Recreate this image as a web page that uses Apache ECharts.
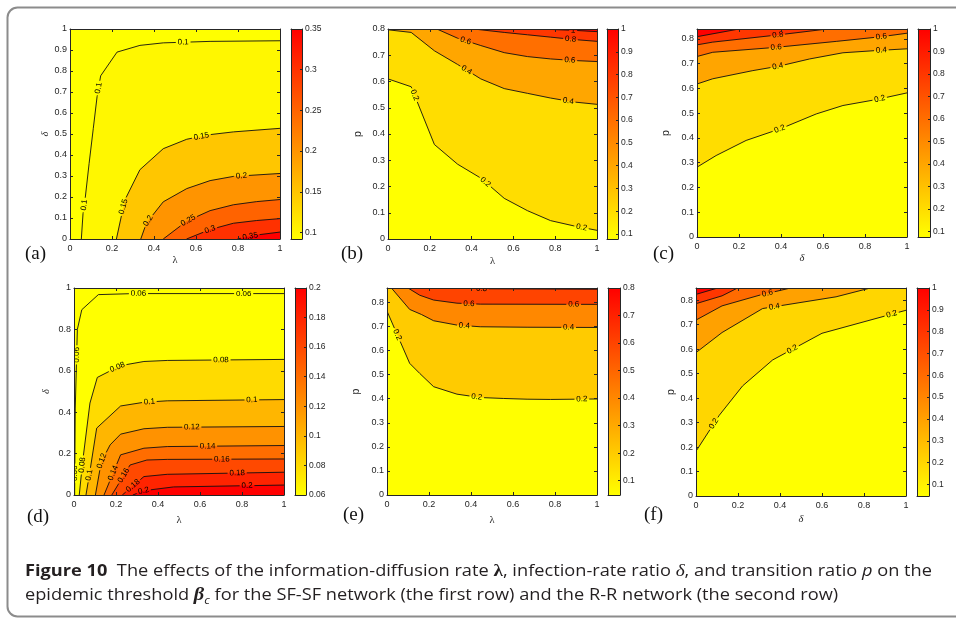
<!DOCTYPE html>
<html>
<head>
<meta charset="utf-8">
<script src="https://cdn.jsdelivr.net/npm/echarts@6/dist/echarts.min.js"></script>
<style>
html,body{margin:0;padding:0;background:#fff}
#chart{width:956px;height:619px}
</style>
</head>
<body>
<div id="chart"></div>
<script>
// ---------------- axis tick values ----------------
const unitTicks5 = [0, 0.2, 0.4, 0.6, 0.8, 1];
const unitTicks10 = [0, 0.1, 0.2, 0.3, 0.4, 0.5, 0.6, 0.7, 0.8, 0.9, 1];
const pTicks = [0, 0.1, 0.2, 0.3, 0.4, 0.5, 0.6, 0.7, 0.8];

// ---------------- (a) SF-SF: beta_c over (lambda, delta) ----------------
const aLevels = [0.1, 0.15, 0.2, 0.25, 0.3, 0.35];
const aLine010 = [[0.054,0],[0.062,0.121],[0.073,0.2],[0.091,0.36],[0.111,0.527],[0.129,0.678],[0.146,0.777],[0.224,0.89],[0.333,0.922],[0.444,0.934],[0.667,0.941],[1,0.944]];
const aLine015 = [[0.221,0],[0.261,0.185],[0.333,0.33],[0.444,0.43],[0.556,0.475],[0.667,0.497],[0.778,0.51],[1,0.527]];
const aLine020 = [[0.337,0],[0.364,0.076],[0.444,0.177],[0.556,0.24],[0.667,0.278],[0.778,0.298],[1,0.312]];
const aLine025 = [[0.444,0],[0.556,0.085],[0.667,0.135],[0.778,0.163],[0.889,0.178],[1,0.188]];
const aLine030 = [[0.555,0],[0.667,0.045],[0.778,0.075],[0.889,0.088],[1,0.097]];
const aLine035 = [[0.797,0],[0.889,0.019],[1,0.033]];
const aRange = [0.092, 0.35];
const aBarTicks = [0.1, 0.15, 0.2, 0.25, 0.3, 0.35];
const aPeak = [1, 0];

// ---------------- (b) SF-SF: beta_c over (lambda, p) ----------------
const bLevels = [0.2, 0.4, 0.6, 0.8, 1];
const bLine02 = [[0,0.61],[0.111,0.58],[0.222,0.36],[0.333,0.285],[0.444,0.232],[0.556,0.155],[0.667,0.108],[0.778,0.07],[0.889,0.05],[1,0.033]];
const bLine04 = [[0,0.797],[0.111,0.787],[0.222,0.717],[0.333,0.665],[0.444,0.61],[0.556,0.573],[0.667,0.555],[0.778,0.537],[0.889,0.522],[1,0.513]];
const bLine06 = [[0.234,0.8],[0.333,0.765],[0.444,0.737],[0.556,0.71],[0.667,0.695],[0.778,0.686],[0.889,0.68],[1,0.676]];
const bLine08 = [[0.41,0.8],[0.556,0.787],[0.667,0.778],[0.778,0.769],[0.889,0.76],[1,0.753]];
const bLine10 = [[0.72,0.8],[0.889,0.795],[1,0.79]];
const bRange = [0.078, 1];
const bBarTicks = [0.1, 0.2, 0.3, 0.4, 0.5, 0.6, 0.7, 0.8, 0.9, 1];
const bPeak = [1, 0.8];

// ---------------- (c) SF-SF: beta_c over (delta, p) ----------------
const cLevels = [0.2, 0.4, 0.6, 0.8, 1];
const cLine02 = [[0,0.282],[0.091,0.329],[0.234,0.39],[0.4,0.438],[0.568,0.497],[0.695,0.531],[0.86,0.556],[1,0.582]];
const cLine04 = [[0,0.618],[0.075,0.639],[0.266,0.672],[0.39,0.69],[0.536,0.719],[0.695,0.744],[0.854,0.753],[1,0.76]];
const cLine06 = [[0,0.729],[0.075,0.746],[0.377,0.766],[0.663,0.79],[0.878,0.809],[1,0.823]];
const cLine08 = [[0,0.776],[0.075,0.787],[0.385,0.816],[0.62,0.84]];
const cLine10 = [[0,0.809],[0.2,0.84]];
const cRange = [0.075, 1];
const cBarTicks = [0.1, 0.2, 0.3, 0.4, 0.5, 0.6, 0.7, 0.8, 0.9, 1];
const cPeak = [0, 0.84];

// ---------------- (d) R-R: beta_c over (lambda, delta) ----------------
const dLevels = [0.06, 0.08, 0.1, 0.12, 0.14, 0.16, 0.18, 0.2];
const dLine006 = [[0.003,0],[0.006,0.42],[0.016,0.8],[0.037,0.895],[0.116,0.968],[0.283,0.973],[1,0.973]];
const dLine008 = [[0.025,0],[0.041,0.16],[0.076,0.444],[0.111,0.568],[0.222,0.625],[0.333,0.645],[0.444,0.65],[1,0.655]];
const dLine010 = [[0.057,0],[0.073,0.097],[0.108,0.323],[0.222,0.43],[0.333,0.448],[0.444,0.455],[1,0.461]];
const dLine012 = [[0.102,0],[0.13,0.16],[0.172,0.242],[0.222,0.294],[0.333,0.32],[0.444,0.327],[1,0.331]];
const dLine014 = [[0.143,0],[0.222,0.194],[0.333,0.226],[0.444,0.234],[1,0.239]];
const dLine016 = [[0.18,0],[0.267,0.145],[0.347,0.169],[0.444,0.172],[1,0.174]];
const dLine018 = [[0.23,0],[0.333,0.089],[0.444,0.1],[1,0.11]];
const dLine020 = [[0.28,0],[0.333,0.021],[0.474,0.039],[1,0.048]];
const dRange = [0.06, 0.2];
const dBarTicks = [0.06, 0.08, 0.1, 0.12, 0.14, 0.16, 0.18, 0.2];
const dPeak = [1, 0];

// ---------------- (e) R-R: beta_c over (lambda, p) ----------------
const eLevels = [0.2, 0.4, 0.6, 0.8];
const eLine02 = [[0,0.764],[0.108,0.547],[0.156,0.505],[0.222,0.45],[0.333,0.419],[0.444,0.405],[0.556,0.401],[0.667,0.398],[0.778,0.397],[1,0.399]];
const eLine04 = [[0.021,0.86],[0.108,0.771],[0.164,0.75],[0.222,0.724],[0.333,0.706],[0.444,0.699],[0.667,0.697],[1,0.696]];
const eLine06 = [[0.1,0.86],[0.156,0.83],[0.222,0.81],[0.333,0.797],[0.444,0.793],[1,0.792]];
const eLine08 = [[0.38,0.86],[0.444,0.857],[1,0.855]];
const eRange = [0.048, 0.8];
const eBarTicks = [0.1, 0.2, 0.3, 0.4, 0.5, 0.6, 0.7, 0.8];
const ePeak = [1, 0.86];

// ---------------- (f) R-R: beta_c over (delta, p) ----------------
const fLevels = [0.2, 0.4, 0.6, 0.8, 1];
const fLine02 = [[0,0.183],[0.111,0.33],[0.222,0.45],[0.365,0.556],[0.6,0.665],[0.8,0.712],[1,0.759]];
const fLine04 = [[0,0.586],[0.124,0.668],[0.317,0.766],[0.667,0.814],[0.83,0.85]];
const fLine06 = [[0,0.719],[0.124,0.777],[0.3,0.82],[0.45,0.85]];
const fLine08 = [[0,0.786],[0.124,0.818],[0.198,0.85]];
const fLine10 = [[0,0.824],[0.103,0.85]];
const fRange = [0.047, 1];
const fBarTicks = [0.1, 0.2, 0.3, 0.4, 0.5, 0.6, 0.7, 0.8, 0.9, 1];
const fPeak = [0, 0.85];

// ---------------- panels ----------------
const panels = [
  { tag: '(a)', xMax: 1, yMax: 1, xTicks: unitTicks5, yTicks: unitTicks10, xName: 'λ', yName: 'δ',
    levels: aLevels, lines: [aLine010, aLine015, aLine020, aLine025, aLine030, aLine035], range: aRange, barTicks: aBarTicks, peak: aPeak },
  { tag: '(b)', xMax: 1, yMax: 0.8, xTicks: unitTicks5, yTicks: pTicks, xName: 'λ', yName: 'p',
    levels: bLevels, lines: [bLine02, bLine04, bLine06, bLine08, bLine10], range: bRange, barTicks: bBarTicks, peak: bPeak },
  { tag: '(c)', xMax: 1, yMax: 0.84, xTicks: unitTicks5, yTicks: pTicks, xName: 'δ', yName: 'p',
    levels: cLevels, lines: [cLine02, cLine04, cLine06, cLine08, cLine10], range: cRange, barTicks: cBarTicks, peak: cPeak },
  { tag: '(d)', xMax: 1, yMax: 1, xTicks: unitTicks5, yTicks: unitTicks5, xName: 'λ', yName: 'δ',
    levels: dLevels, lines: [dLine006, dLine008, dLine010, dLine012, dLine014, dLine016, dLine018, dLine020], range: dRange, barTicks: dBarTicks, peak: dPeak },
  { tag: '(e)', xMax: 1, yMax: 0.86, xTicks: unitTicks5, yTicks: pTicks, xName: 'λ', yName: 'p',
    levels: eLevels, lines: [eLine02, eLine04, eLine06, eLine08], range: eRange, barTicks: eBarTicks, peak: ePeak },
  { tag: '(f)', xMax: 1, yMax: 0.85, xTicks: unitTicks5, yTicks: pTicks, xName: 'δ', yName: 'p',
    levels: fLevels, lines: [fLine02, fLine04, fLine06, fLine08, fLine10], range: fRange, barTicks: fBarTicks, peak: fPeak }
];

// ---------------- layout (pixels) and inline label spots ----------------
const layout = [
  { plot: [70, 29, 210, 210], bar: [291, 29, 11, 210], xGap: 16, yGap: 19, tagAt: [25, 254] },
  { plot: [388, 29, 209, 210], bar: [607, 29, 11, 210], xGap: 17, yGap: 24, tagAt: [341, 254] },
  { plot: [697, 29, 210, 208], bar: [918, 29, 12, 208], xGap: 16, yGap: 25, tagAt: [653, 254] },
  { plot: [74, 288, 210, 207], bar: [295, 288, 11, 207], xGap: 20, yGap: 22, tagAt: [27, 517] },
  { plot: [387, 288, 210, 207], bar: [608, 288, 12, 207], xGap: 20, yGap: 25, tagAt: [343, 515] },
  { plot: [696, 288, 210, 208], bar: [917, 288, 12, 208], xGap: 18, yGap: 19, tagAt: [644, 515] }
];
// approximate spots (in axis units) where each contour carries its value label
const labelSpots = [
  [[[0.073,0.161],[0.141,0.718],[0.539,0.936]], [[0.261,0.153],[0.626,0.487]], [[0.38,0.081],[0.817,0.296]], [[0.563,0.089]], [[0.666,0.048]], [[0.857,0.018]]],
  [[[0.13,0.549],[0.467,0.218],[0.925,0.04]], [[0.377,0.645],[0.862,0.524]], [[0.372,0.757],[0.87,0.68]], [[0.873,0.76]], [[0.886,0.797]]],
  [[[0.393,0.437],[0.87,0.558]], [[0.385,0.686],[0.878,0.753]], [[0.377,0.766],[0.878,0.809]], [[0.385,0.816]], []],
  [[[0.01,0.105],[0.013,0.677],[0.307,0.973],[0.808,0.973]], [[0.041,0.145],[0.207,0.616],[0.7,0.652]], [[0.068,0.097],[0.359,0.448],[0.847,0.46]],
   [[0.124,0.169],[0.561,0.326]], [[0.172,0.113],[0.636,0.234]], [[0.223,0.103],[0.704,0.169]], [[0.267,0.061],[0.777,0.108]], [[0.331,0.021],[0.824,0.045]]],
  [[[0.045,0.664],[0.427,0.405],[0.928,0.395]], [[0.368,0.702],[0.865,0.695]], [[0.39,0.793],[0.889,0.789]], [[0.45,0.855]]],
  [[[0.092,0.292],[0.46,0.597],[0.933,0.739]], [[0.373,0.773]], [[0.34,0.83]], [], []]
];

const INK = '#262626';
const SANS = '"Liberation Sans", Arial, Helvetica, sans-serif';
const SERIF = '"Liberation Serif", "DejaVu Serif", serif';
const LABEL_FONT_SIZE = 8;

const measureCtx = document.createElement('canvas').getContext('2d');
function textWidth(str, font) { measureCtx.font = font; return measureCtx.measureText(str).width; }

// autumn colormap, yellow at the low end and red at the high end
function colorAt(v, range) {
  let t = (v - range[0]) / (range[1] - range[0]);
  t = Math.max(0, Math.min(1, t));
  return 'rgb(255,' + Math.round(255 * (1 - t)) + ',0)';
}

// position of a boundary point along the frame perimeter (counter-clockwise from the origin)
function perim(u, v) {
  const e = 1e-6;
  if (v <= e) return u;
  if (u >= 1 - e) return 1 + v;
  if (v >= 1 - e) return 2 + (1 - u);
  return 3 + (1 - v);
}
function fwd(a, b) { return ((b - a) % 4 + 4) % 4; }

// polygon covering the part of the frame above a contour level
function highRegion(line, xMax, yMax, peak) {
  const S = line[0], E = line[line.length - 1];
  const tS = perim(S[0] / xMax, S[1] / yMax), tE = perim(E[0] / xMax, E[1] / yMax);
  const tPeak = perim(peak[0] / xMax, peak[1] / yMax);
  const corners = [[0, 0, 0], [1, 0, 1], [1, 1, 2], [0, 1, 3]];
  const ccw = corners.filter(c => { const d = fwd(tE, c[2]); return d > 1e-9 && d < fwd(tE, tS); })
    .sort((p, q) => fwd(tE, p[2]) - fwd(tE, q[2]));
  const cw = corners.filter(c => { const d = fwd(c[2], tE); return d > 1e-9 && d < fwd(tS, tE); })
    .sort((p, q) => fwd(p[2], tE) - fwd(q[2], tE));
  const useCcw = ccw.some(c => Math.abs(c[2] - tPeak) < 1e-9);
  const chosen = useCcw ? ccw : cw;
  return line.concat(chosen.map(c => [c[0] * xMax, c[1] * yMax]));
}

function fillRenderer(P) {
  return function (params, api) {
    const i = params.dataIndex;
    let pts, color;
    if (i === 0) {
      pts = [[0, 0], [P.xMax, 0], [P.xMax, P.yMax], [0, P.yMax]];
      color = colorAt(P.range[0], P.range);
    } else {
      pts = highRegion(P.lines[i - 1], P.xMax, P.yMax, P.peak);
      color = colorAt(P.levels[i - 1], P.range);
    }
    return { type: 'polygon', silent: true, shape: { points: pts.map(p => api.coord(p)) },
      style: { fill: color, stroke: color, lineWidth: 0.3 } };
  };
}

function lineRenderer(P, spots) {
  return function (params, api) {
    const i = params.dataIndex;
    const pts = P.lines[i].map(p => api.coord(p));
    const cum = [0];
    for (let k = 1; k < pts.length; k++) {
      cum.push(cum[k - 1] + Math.hypot(pts[k][0] - pts[k - 1][0], pts[k][1] - pts[k - 1][1]));
    }
    const total = cum[cum.length - 1];
    function pointAt(s) {
      for (let k = 0; k < pts.length - 1; k++) {
        if (s <= cum[k + 1] || k === pts.length - 2) {
          const L = cum[k + 1] - cum[k] || 1;
          const r = Math.max(0, Math.min(1, (s - cum[k]) / L));
          return { p: [pts[k][0] + r * (pts[k + 1][0] - pts[k][0]), pts[k][1] + r * (pts[k + 1][1] - pts[k][1])], k: k };
        }
      }
      return { p: pts[pts.length - 1], k: pts.length - 2 };
    }
    function piece(a, b) {
      const out = [pointAt(a).p];
      for (let k = 0; k < pts.length; k++) if (cum[k] > a && cum[k] < b) out.push(pts[k]);
      out.push(pointAt(b).p);
      return out;
    }
    const text = String(P.levels[i]);
    const font = LABEL_FONT_SIZE + 'px ' + SANS;
    const half = textWidth(text, font) / 2 + 1.8;
    const children = [];
    const gaps = [];
    (spots[i] || []).forEach(spot => {
      const A = api.coord(spot);
      let best = Infinity, bestS = 0;
      for (let k = 0; k < pts.length - 1; k++) {
        const dx = pts[k + 1][0] - pts[k][0], dy = pts[k + 1][1] - pts[k][1];
        const L2 = dx * dx + dy * dy || 1;
        const r = Math.max(0, Math.min(1, ((A[0] - pts[k][0]) * dx + (A[1] - pts[k][1]) * dy) / L2));
        const qx = pts[k][0] + r * dx, qy = pts[k][1] + r * dy;
        const d = Math.hypot(A[0] - qx, A[1] - qy);
        if (d < best) { best = d; bestS = cum[k] + r * Math.sqrt(L2); }
      }
      const s = Math.max(half, Math.min(total - half, bestS));
      const a = pointAt(s - half).p, b = pointAt(s + half).p, c = pointAt(s).p;
      let ang = Math.atan2(-(b[1] - a[1]), b[0] - a[0]);
      if (ang > Math.PI / 2) ang -= Math.PI;
      if (ang < -Math.PI / 2) ang += Math.PI;
      gaps.push([s - half, s + half]);
      children.push({ type: 'text', x: c[0], y: c[1], rotation: ang, silent: true, z2: 5,
        style: { text: text, x: 0, y: 0, fill: '#000', font: font, align: 'center', verticalAlign: 'middle',
          textAlign: 'center', textVerticalAlign: 'middle' } });
    });
    gaps.sort((g, h) => g[0] - h[0]);
    let start = 0;
    gaps.forEach(g => {
      if (g[0] > start) children.push({ type: 'polyline', silent: true, shape: { points: piece(start, g[0]) }, style: { stroke: '#111', lineWidth: 0.9, fill: null } });
      start = Math.max(start, g[1]);
    });
    if (start < total) children.push({ type: 'polyline', silent: true, shape: { points: piece(start, total) }, style: { stroke: '#111', lineWidth: 0.9, fill: null } });
    return { type: 'group', children: children };
  };
}

const grids = [], xAxes = [], yAxes = [], series = [], graphics = [];

function frameAxis(dim, gridIndex, position, min, max, ticks, withLabels, extra) {
  return Object.assign({
    type: 'value', gridIndex: gridIndex, position: position, min: min, max: max, z: 10,
    axisLine: { show: true, onZero: false, lineStyle: { color: INK, width: 1 } },
    axisTick: { show: !!ticks, inside: true, length: 3, customValues: ticks || [], lineStyle: { color: INK, width: 1 } },
    axisLabel: { show: withLabels, customValues: ticks || [], color: INK, fontSize: 9, fontFamily: SANS, margin: dim === 'x' ? 5 : 3 },
    splitLine: { show: false }
  }, extra || {});
}

panels.forEach((P, k) => {
  const L = layout[k];
  const g = grids.length;
  grids.push({ left: L.plot[0], top: L.plot[1], width: L.plot[2], height: L.plot[3] });
  const xi = xAxes.length, yi = yAxes.length;
  xAxes.push(frameAxis('x', g, 'bottom', 0, P.xMax, P.xTicks, true, {
    name: P.xName, nameLocation: 'middle', nameGap: L.xGap,
    nameTextStyle: { fontFamily: SERIF, fontSize: 10.5, color: INK, fontStyle: P.xName === 'δ' ? 'italic' : 'normal' } }));
  xAxes.push(frameAxis('x', g, 'top', 0, P.xMax, P.xTicks, false));
  yAxes.push(frameAxis('y', g, 'left', 0, P.yMax, P.yTicks, true, {
    name: P.yName, nameLocation: 'middle', nameGap: L.yGap,
    nameTextStyle: { fontFamily: P.yName === 'p' ? SANS : SERIF, fontSize: 10.5, color: INK, fontStyle: P.yName === 'δ' ? 'italic' : 'normal' } }));
  yAxes.push(frameAxis('y', g, 'right', 0, P.yMax, P.yTicks, false));

  series.push({ type: 'custom', xAxisIndex: xi, yAxisIndex: yi, clip: true, silent: true, z: 1,
    renderItem: fillRenderer(P), data: [P.levels[0]].concat(P.levels).map(() => [0, 0]) });
  series.push({ type: 'custom', xAxisIndex: xi, yAxisIndex: yi, clip: true, silent: true, z: 2,
    renderItem: lineRenderer(P, labelSpots[k]), data: P.levels.map(() => [0, 0]) });

  // colour bar
  const cg = grids.length;
  grids.push({ left: L.bar[0], top: L.bar[1], width: L.bar[2], height: L.bar[3] });
  const cxi = xAxes.length, cyi = yAxes.length;
  xAxes.push(frameAxis('x', cg, 'bottom', 0, 1, null, false));
  xAxes.push(frameAxis('x', cg, 'top', 0, 1, null, false));
  yAxes.push(frameAxis('y', cg, 'right', P.range[0], P.range[1], P.barTicks, true, {
    axisTick: { show: true, inside: true, length: 2, customValues: P.barTicks, lineStyle: { color: INK, width: 1 } },
    axisLabel: { show: true, customValues: P.barTicks, color: INK, fontSize: 8.5, fontFamily: SANS, margin: 3 } }));
  yAxes.push(frameAxis('y', cg, 'left', P.range[0], P.range[1], null, false));
  series.push({ type: 'custom', xAxisIndex: cxi, yAxisIndex: cyi, clip: true, silent: true, z: 1,
    data: [[0, P.range[0]]],
    renderItem: function (params, api) {
      const p0 = api.coord([0, P.range[1]]), p1 = api.coord([1, P.range[0]]);
      return { type: 'rect', silent: true, shape: { x: p0[0], y: p0[1], width: p1[0] - p0[0], height: p1[1] - p0[1] },
        style: { fill: new echarts.graphic.LinearGradient(0, 0, 0, 1, [{ offset: 0, color: '#ff0000' }, { offset: 1, color: '#ffff00' }]) } };
    } });

  graphics.push({ type: 'text', x: L.tagAt[0], y: L.tagAt[1], z: 50,
    style: { text: P.tag, font: '19px ' + SERIF, fill: '#111', align: 'left', verticalAlign: 'middle', textAlign: 'left', textVerticalAlign: 'middle' } });
});

// ---------------- caption ----------------
const CAP = '"Open Sans", "Noto Sans", sans-serif';
const CAP_SIZE = 16.5;
const CAP_COLOR = '#231f20';
const capSegments = [
  ['Figure 10', 'bold ' + CAP_SIZE + 'px ' + CAP],
  ['  The effects of the information-diffusion rate ', CAP_SIZE + 'px ' + CAP],
  ['λ', 'bold ' + (CAP_SIZE + 1) + 'px ' + SERIF],
  [', infection-rate ratio ', CAP_SIZE + 'px ' + CAP],
  ['δ', 'italic ' + (CAP_SIZE + 1) + 'px ' + SERIF],
  [', and transition ratio ', CAP_SIZE + 'px ' + CAP],
  ['p', 'italic ' + CAP_SIZE + 'px ' + CAP],
  [' on the', CAP_SIZE + 'px ' + CAP]
];
const capWidth = capSegments.reduce((s, seg) => s + textWidth(seg[0], seg[1]), 0);
const capScale = 907 / capWidth;
const capRich = {
  b: { fontFamily: CAP, fontSize: CAP_SIZE, fontWeight: 'bold', fill: CAP_COLOR, color: CAP_COLOR, lineHeight: 22 },
  lam: { fontFamily: SERIF, fontSize: CAP_SIZE + 1, fontWeight: 'bold', fill: CAP_COLOR, color: CAP_COLOR, lineHeight: 22 },
  del: { fontFamily: SERIF, fontSize: CAP_SIZE + 1, fontStyle: 'italic', fill: CAP_COLOR, color: CAP_COLOR, lineHeight: 22 },
  it: { fontFamily: CAP, fontSize: CAP_SIZE, fontStyle: 'italic', fill: CAP_COLOR, color: CAP_COLOR, lineHeight: 22 },
  beta: { fontFamily: SERIF, fontSize: CAP_SIZE + 2, fontStyle: 'italic', fontWeight: 'bold', fill: CAP_COLOR, color: CAP_COLOR, lineHeight: 22 },
  sub: { fontFamily: CAP, fontSize: 11, fontStyle: 'italic', fill: CAP_COLOR, color: CAP_COLOR, lineHeight: 22, verticalAlign: 'bottom', padding: [0, 0, 0, 0] }
};
graphics.push({ type: 'text', x: 25, y: 571, scaleX: capScale, z: 50,
  style: { text: '{b|Figure 10}  The effects of the information-diffusion rate {lam|λ}, infection-rate ratio {del|δ}, and transition ratio {it|p} on the',
    rich: capRich, font: CAP_SIZE + 'px ' + CAP, fill: CAP_COLOR, lineHeight: 22, align: 'left', verticalAlign: 'middle', textAlign: 'left', textVerticalAlign: 'middle' } });
graphics.push({ type: 'text', x: 25, y: 595, scaleX: capScale, z: 50,
  style: { text: 'epidemic threshold {beta|β}{sub|c} for the SF-SF network (the first row) and the R-R network (the second row)',
    rich: capRich, font: CAP_SIZE + 'px ' + CAP, fill: CAP_COLOR, lineHeight: 22, align: 'left', verticalAlign: 'middle', textAlign: 'left', textVerticalAlign: 'middle' } });

// rounded frame around the figure
graphics.push({ type: 'rect', z: 0, silent: true, shape: { x: 7.5, y: 7.5, width: 990, height: 609, r: 10 },
  style: { fill: null, stroke: '#8c8c8c', lineWidth: 2 } });

const chart = echarts.init(document.getElementById('chart'), null, { renderer: 'canvas' });
chart.setOption({
  animation: false,
  backgroundColor: '#ffffff',
  grid: grids,
  xAxis: xAxes,
  yAxis: yAxes,
  series: series,
  graphic: { elements: graphics }
});
</script>
</body>
</html>
